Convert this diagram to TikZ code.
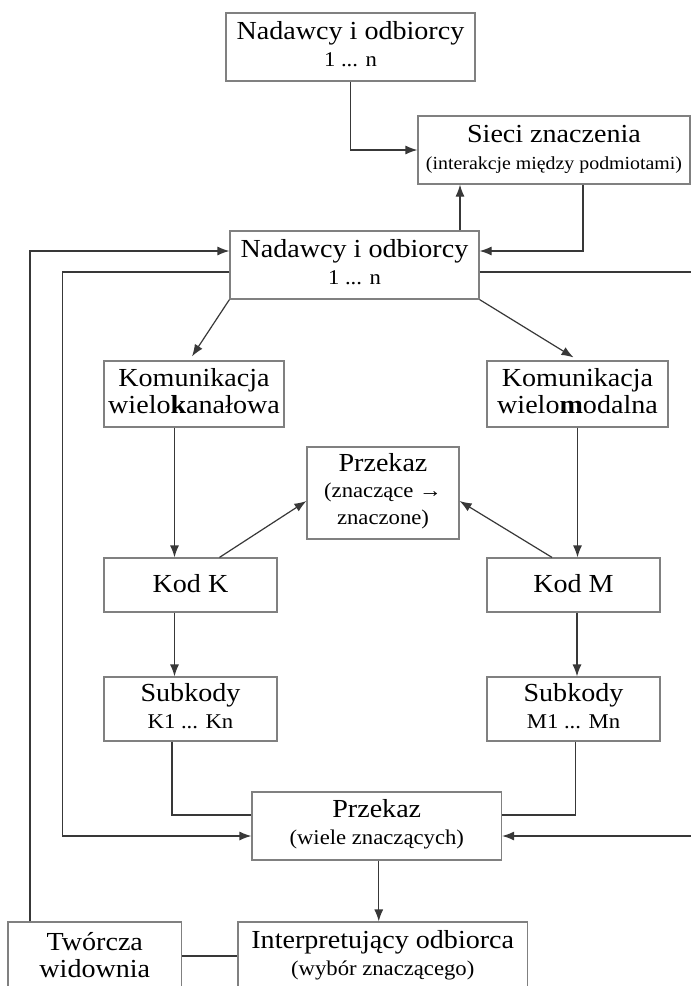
\documentclass[tikz,border=0pt]{standalone}
\usepackage{fontspec}
\setmainfont{Liberation Serif}[FakeStretch=1.08]
\usetikzlibrary{arrows.meta}
\newcommand\subl[1]{{\fontsize{21}{26.5}\selectfont #1}}
\newcommand\subs[1]{{\fontsize{18.4}{26.5}\selectfont #1}}

\begin{document}
\begin{tikzpicture}[x=1pt,y=-1pt,
  box/.style={draw=black!50, line width=1.2pt, fill=white, align=center,
    inner sep=1pt, text height=38pt, text depth=0pt,
    font=\fontsize{26}{26.5}\selectfont, text=black},
  arr/.style={draw=black!78, line width=1.2pt, -{Latex[length=12pt,width=9pt]}},
  ln/.style={draw=black!78, line width=1.2pt}]
\useasboundingbox (0,0) rectangle (691,986);
\clip (0,0) rectangle (691,986);
\fill[white] (0,0) rectangle (691,986);

% boxes
\node[box, minimum width=249pt, minimum height=68pt] (A) at (350.5,47) {Nadawcy i odbiorcy\\\subl{1 ... n}};
\node[box, minimum width=272pt, minimum height=68pt] (S) at (554,150) {Sieci znaczenia\\\subs{(interakcje między podmiotami)}};
\node[box, minimum width=249pt, minimum height=68pt] (B) at (354.5,265) {Nadawcy i odbiorcy\\\subl{1 ... n}};
\node[box, minimum width=180pt, minimum height=66pt] (KK) at (194,394) {Komunikacja\\wielo\textbf{k}anałowa};
\node[box, minimum width=181pt, minimum height=66pt] (KM) at (577.5,394) {Komunikacja\\wielo\textbf{m}odalna};
\node[box, text height=62pt, minimum width=152pt, minimum height=92pt] (P1) at (383,493) {Przekaz\\\subl{(znaczące →}\\\subl{znaczone)}};
\node[box, text height=14pt, minimum width=173pt, minimum height=54pt] (KodK) at (190.5,585) {Kod K};
\node[box, text height=14pt, minimum width=173pt, minimum height=54pt] (KodM) at (573.5,585) {Kod M};
\node[box, minimum width=173pt, minimum height=64pt] (SK) at (190.5,709) {Subkody\\\subl{K1 ... Kn}};
\node[box, minimum width=173pt, minimum height=64pt] (SM) at (573.5,709) {Subkody\\\subl{M1 ... Mn}};
\node[box, text height=36pt, minimum width=249.5pt, minimum height=68pt] (P2) at (376.75,826) {Przekaz\\\subl{(wiele znaczących)}};
\node[box, minimum width=289.5pt, minimum height=68pt] (IO) at (382.75,956) {Interpretujący odbiorca\\\subl{(wybór znaczącego)}};
\node[box, text height=42pt, minimum width=173.6pt, minimum height=68pt] (TW) at (94.8,956) {Twórcza\\widownia};

% free ends leaving the right margin
\coordinate (Rtop) at (700,272);
\coordinate (Rbot) at (700,836);

% connectors in the upper part
\draw[arr] (A.south) |- (S.west);
\draw[arr] ([xshift=105.5pt]B.north) -- ([xshift=105.5pt]B.north |- S.south);
\draw[arr] ([xshift=29pt]S.south) |- ([yshift=14pt]B.east);
\draw[arr] ([xshift=-64.8pt]TW.north) |- ([yshift=14pt]B.west);
\draw[arr] ([yshift=-7pt]B.west) -- ++(-167,0) |- ([yshift=-10pt]P2.west);
\draw[ln] ([yshift=-7pt]B.east) -- (Rtop);
\draw[arr] (Rbot) -- ([yshift=-10pt]P2.east);

% the two branches
\draw[arr] (B.south west) -- ([xshift=-2pt,yshift=4pt]KK.north);
\draw[arr] (B.south east) -- ([xshift=-4pt,yshift=3pt]KM.north);
\draw[arr] ([xshift=-19.5pt]KK.south) -- ([xshift=-19.5pt]KK.south |- KodK.north);
\draw[arr] (KM.south) -- (KM.south |- KodM.north);
\draw[arr] ([xshift=29pt]KodK.north) -- ([yshift=-8pt]P1.west);
\draw[arr] ([xshift=-21.5pt]KodM.north) -- ([yshift=-8pt]P1.east);
\draw[arr] ([xshift=-16pt]KodK.south) -- ([xshift=-16pt]KodK.south |- SK.north);
\draw[arr] ([xshift=3.5pt]KodM.south) -- ([xshift=3.5pt]KodM.south |- SM.north);
\draw[ln] ([xshift=-18.5pt]SK.south) |- ([yshift=11pt]P2.west);
\draw[ln] ([xshift=2pt]SM.south) |- ([yshift=11pt]P2.east);

% towards the reader
\draw[arr] ([xshift=2pt]P2.south) -- ([xshift=2pt]P2.south |- IO.north);
\draw[ln] (TW.east) -- (IO.west);
\end{tikzpicture}
\end{document}
